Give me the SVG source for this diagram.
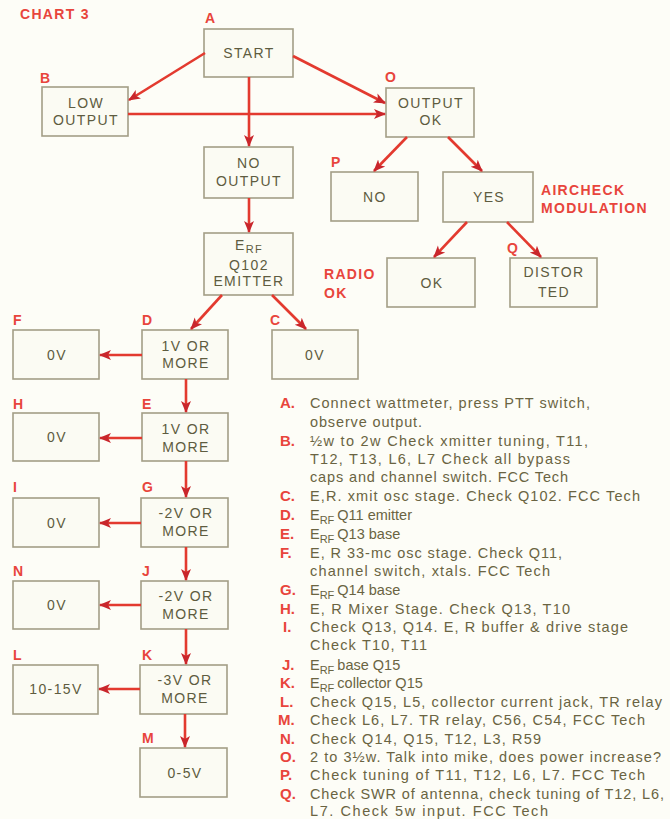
<svg xmlns="http://www.w3.org/2000/svg" width="670" height="819" viewBox="0 0 670 819">
<defs>
<marker id="ah" markerUnits="userSpaceOnUse" markerWidth="14" markerHeight="12" refX="11" refY="6" orient="auto">
<path d="M0,1 L12,6 L0,11 L3,6 Z" fill="#c9262c"/>
</marker>
</defs>
<style>
.bx{fill:#fbfbf3;stroke:#a39e86;stroke-width:1.6}
.t{font-family:"Liberation Sans",Arial,sans-serif;font-size:14px;fill:#5e5c40;text-anchor:middle;letter-spacing:1.4px}
.lb{font-family:"Liberation Sans",Arial,sans-serif;font-size:14px;font-weight:bold;fill:#e8453c}
.hd{font-family:"Liberation Sans",Arial,sans-serif;font-size:14px;font-weight:bold;fill:#e8453c;letter-spacing:1.3px}
.c line,.c path{stroke:#e33a2f;stroke-width:2.6;fill:none;marker-end:url(#ah)}
.n{font-family:"Liberation Sans",Arial,sans-serif;font-size:14.5px;fill:#6a6442}
.nl{font-family:"Liberation Sans",Arial,sans-serif;font-size:15px;font-weight:bold;fill:#e8453c}
.sb{font-size:11px}
</style>
<rect width="670" height="819" fill="#fdfdf7"/>
<text class="hd" x="20" y="19">CHART 3</text>

<g id="A"><text class="lb" x="205" y="23">A</text><rect class="bx" x="204" y="29" width="89" height="48"/><text class="t" x="249" y="58">START</text></g>
<g id="B"><text class="lb" x="40" y="83">B</text><rect class="bx" x="42" y="87" width="86" height="49"/><text class="t" x="86" y="108">LOW</text><text class="t" x="86" y="125">OUTPUT</text></g>
<g id="O"><text class="lb" x="385" y="82">O</text><rect class="bx" x="386" y="88" width="88" height="49"/><text class="t" x="431" y="108">OUTPUT</text><text class="t" x="431" y="125">OK</text></g>
<g id="NOOUT"><rect class="bx" x="204" y="147" width="89" height="51"/><text class="t" x="249" y="168">NO</text><text class="t" x="249" y="186">OUTPUT</text></g>
<g id="ERF"><rect class="bx" x="204" y="233" width="89" height="62"/><text class="t" x="249" y="250">E<tspan class="sb" dy="3">RF</tspan></text><text class="t" x="249" y="270">Q102</text><text class="t" x="249" y="286">EMITTER</text></g>
<g id="P"><text class="lb" x="331" y="167">P</text><rect class="bx" x="331" y="172" width="87" height="49"/><text class="t" x="375" y="202">NO</text></g>
<g id="YES"><rect class="bx" x="443" y="172" width="90" height="50"/><text class="t" x="489" y="202">YES</text><text class="hd" x="541" y="195">AIRCHECK</text><text class="hd" x="541" y="213">MODULATION</text></g>
<g id="RADIOOK"><text class="hd" x="324" y="279">RADIO</text><text class="hd" x="324" y="298">OK</text><rect class="bx" x="387" y="258" width="88" height="49"/><text class="t" x="432" y="288">OK</text></g>
<g id="Q"><text class="lb" x="507" y="253">Q</text><rect class="bx" x="510" y="258" width="87" height="49"/><text class="t" x="554" y="277">DISTOR</text><text class="t" x="554" y="297">TED</text></g>

<g id="C"><text class="lb" x="270" y="325">C</text><rect class="bx" x="272" y="330" width="86" height="49"/><text class="t" x="315" y="360">0V</text></g>
<g id="D"><text class="lb" x="142" y="325">D</text><rect class="bx" x="142" y="330" width="86" height="49"/><text class="t" x="186" y="351">1V OR</text><text class="t" x="186" y="368">MORE</text></g>
<g id="F"><text class="lb" x="13" y="325">F</text><rect class="bx" x="13" y="330" width="86" height="49"/><text class="t" x="57" y="360">0V</text></g>
<g id="E"><text class="lb" x="142" y="409">E</text><rect class="bx" x="142" y="413" width="86" height="48"/><text class="t" x="186" y="434">1V OR</text><text class="t" x="186" y="452">MORE</text></g>
<g id="H"><text class="lb" x="13" y="409">H</text><rect class="bx" x="13" y="413" width="86" height="48"/><text class="t" x="57" y="442">0V</text></g>
<g id="G"><text class="lb" x="142" y="492">G</text><rect class="bx" x="141" y="498" width="87" height="49"/><text class="t" x="186" y="518">-2V OR</text><text class="t" x="186" y="536">MORE</text></g>
<g id="I"><text class="lb" x="13" y="492">I</text><rect class="bx" x="13" y="498" width="86" height="49"/><text class="t" x="57" y="528">0V</text></g>
<g id="J"><text class="lb" x="142" y="576">J</text><rect class="bx" x="141" y="581" width="87" height="48"/><text class="t" x="186" y="601">-2V OR</text><text class="t" x="186" y="619">MORE</text></g>
<g id="N"><text class="lb" x="13" y="576">N</text><rect class="bx" x="13" y="581" width="86" height="48"/><text class="t" x="57" y="610">0V</text></g>
<g id="K"><text class="lb" x="142" y="660">K</text><rect class="bx" x="140" y="665" width="87" height="49"/><text class="t" x="185" y="685">-3V OR</text><text class="t" x="185" y="703">MORE</text></g>
<g id="L"><text class="lb" x="13" y="660">L</text><rect class="bx" x="13" y="665" width="85" height="49"/><text class="t" x="56" y="694">10-15V</text></g>
<g id="M"><text class="lb" x="142" y="743">M</text><rect class="bx" x="140" y="748" width="87" height="49"/><text class="t" x="185" y="778">0-5V</text></g>

<g id="connectors" class="c">
<line x1="205" y1="53" x2="129" y2="100"/>
<line x1="293" y1="56" x2="385" y2="103"/>
<line x1="128" y1="114" x2="385" y2="114"/>
<line x1="249" y1="77" x2="249" y2="146"/>
<line x1="407" y1="137" x2="374" y2="171"/>
<line x1="448" y1="137" x2="482" y2="171"/>
<line x1="467" y1="222" x2="434" y2="257"/>
<line x1="507" y1="222" x2="541" y2="257"/>
<line x1="249" y1="198" x2="249" y2="232"/>
<line x1="222" y1="295" x2="191" y2="329"/>
<line x1="272" y1="295" x2="306" y2="329"/>
<line x1="142" y1="355" x2="100" y2="355"/>
<line x1="186" y1="379" x2="186" y2="412"/>
<line x1="142" y1="438" x2="100" y2="438"/>
<line x1="186" y1="461" x2="186" y2="497"/>
<line x1="141" y1="523" x2="100" y2="523"/>
<line x1="186" y1="547" x2="186" y2="580"/>
<line x1="141" y1="605" x2="100" y2="605"/>
<line x1="186" y1="629" x2="186" y2="664"/>
<line x1="140" y1="689" x2="99" y2="689"/>
<line x1="185" y1="714" x2="185" y2="747"/>
</g>

<g id="notes">
<text class="nl" x="280" y="408">A.</text><text class="n" x="310" y="408" textLength="280">Connect wattmeter, press PTT switch,</text>
<text class="n" x="310" y="427" textLength="112">observe output.</text>
<text class="nl" x="280" y="446">B.</text><text class="n" x="310" y="446" textLength="278">½w to 2w Check xmitter tuning, T11,</text>
<text class="n" x="310" y="464" textLength="260">T12, T13, L6, L7 Check all bypass</text>
<text class="n" x="310" y="482" textLength="258">caps and channel switch. FCC Tech</text>
<text class="nl" x="280" y="501">C.</text><text class="n" x="310" y="501" textLength="330">E,R. xmit osc stage.  Check Q102. FCC Tech</text>
<text class="nl" x="280" y="520">D.</text><text class="n" x="310" y="520">E<tspan class="sb" dy="4">RF</tspan><tspan dy="-4" dx="3">Q11 emitter</tspan></text>
<text class="nl" x="280" y="539">E.</text><text class="n" x="310" y="539">E<tspan class="sb" dy="4">RF</tspan><tspan dy="-4" dx="3">Q13 base</tspan></text>
<text class="nl" x="280" y="558">F.</text><text class="n" x="310" y="558" textLength="252">E, R 33-mc osc stage.  Check Q11,</text>
<text class="n" x="310" y="576" textLength="240">channel switch, xtals.  FCC Tech</text>
<text class="nl" x="280" y="595">G.</text><text class="n" x="310" y="595">E<tspan class="sb" dy="4">RF</tspan><tspan dy="-4" dx="3">Q14 base</tspan></text>
<text class="nl" x="280" y="614">H.</text><text class="n" x="310" y="614" textLength="260">E, R Mixer Stage.  Check Q13, T10</text>
<text class="nl" x="283" y="632">I.</text><text class="n" x="310" y="632" textLength="318">Check Q13, Q14.  E, R buffer &amp; drive stage</text>
<text class="n" x="310" y="650" textLength="117">Check T10, T11</text>
<text class="nl" x="282" y="670">J.</text><text class="n" x="310" y="670">E<tspan class="sb" dy="4">RF</tspan><tspan dy="-4" dx="3">base Q15</tspan></text>
<text class="nl" x="280" y="688">K.</text><text class="n" x="310" y="688">E<tspan class="sb" dy="4">RF</tspan><tspan dy="-4" dx="3">collector Q15</tspan></text>
<text class="nl" x="280" y="707">L.</text><text class="n" x="310" y="707" textLength="352">Check Q15, L5, collector current jack, TR relay</text>
<text class="nl" x="278" y="725">M.</text><text class="n" x="310" y="725" textLength="335">Check L6, L7. TR relay, C56, C54, FCC Tech</text>
<text class="nl" x="280" y="744">N.</text><text class="n" x="310" y="744" textLength="231">Check Q14, Q15, T12, L3, R59</text>
<text class="nl" x="280" y="762">O.</text><text class="n" x="310" y="762" textLength="351">2 to 3½w. Talk into mike, does power increase?</text>
<text class="nl" x="280" y="780">P.</text><text class="n" x="310" y="780" textLength="335">Check tuning of T11, T12, L6, L7. FCC Tech</text>
<text class="nl" x="280" y="799">Q.</text><text class="n" x="310" y="799" textLength="354">Check SWR of antenna, check tuning of T12, L6,</text>
<text class="n" x="310" y="816" textLength="238">L7.  Check 5w input.  FCC Tech</text>
</g>
</svg>
